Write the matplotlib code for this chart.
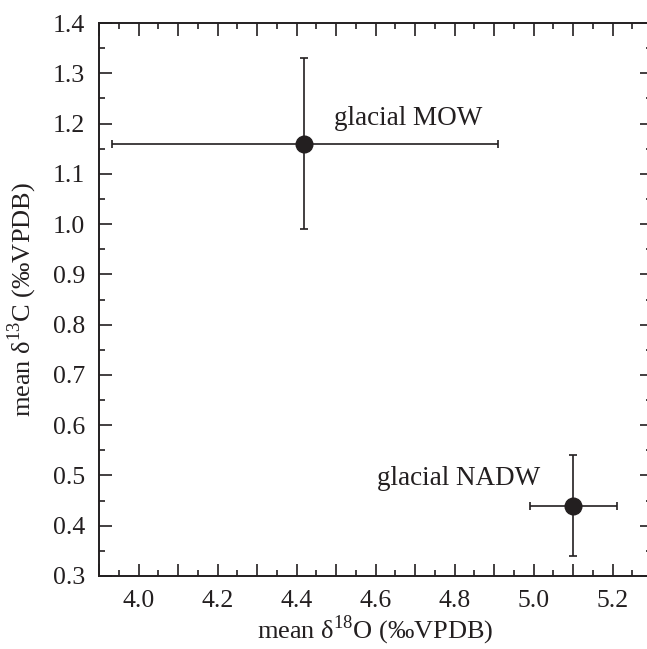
import numpy as np
import matplotlib
matplotlib.use("Agg")
import matplotlib.pyplot as plt
from matplotlib.ticker import MultipleLocator, FuncFormatter

plt.rcParams['font.family'] = ['Liberation Serif', 'DejaVu Serif']
plt.rcParams['mathtext.fontset'] = 'custom'
plt.rcParams['mathtext.rm'] = 'Liberation Serif'

# data
names = ['glacial MOW', 'glacial NADW']
d18o = [4.42, 5.10]
d13c = [1.16, 0.44]
d18o_lo = [4.42 - 3.933, 5.10 - 4.99]
d18o_hi = [4.91 - 4.42, 5.21 - 5.10]
d13c_lo = [1.16 - 0.99, 0.44 - 0.34]
d13c_hi = [1.33 - 1.16, 0.54 - 0.44]
label_pos = [(4.495, 1.211), (4.604, 0.493)]

ink = '#231f20'

fig = plt.figure(figsize=(6.47, 6.49), dpi=100)
ax = fig.add_axes([0.153, 0.1125, 0.855, 0.852])

ax.errorbar(d18o, d13c, xerr=[d18o_lo, d18o_hi], yerr=[d13c_lo, d13c_hi],
            fmt='o', color=ink, ms=12, elinewidth=1.2, capsize=3, capthick=1.2)

for name, (tx, ty) in zip(names, label_pos):
    ax.text(tx, ty, name, fontsize=19.5, color=ink, va='center', ha='left')

ax.set_xlim(3.9, 5.3)
ax.set_ylim(0.3, 1.4)

ax.xaxis.set_major_locator(MultipleLocator(0.1))
ax.xaxis.set_minor_locator(MultipleLocator(0.05))
ax.xaxis.set_major_formatter(FuncFormatter(
    lambda v, p: f'{v:.1f}' if abs(round(v * 10) % 2) == 0 else ''))
ax.yaxis.set_major_locator(MultipleLocator(0.1))
ax.yaxis.set_minor_locator(MultipleLocator(0.05))
ax.yaxis.set_major_formatter(FuncFormatter(lambda v, p: f'{v:.1f}'))

ax.tick_params(which='both', direction='in', top=True, right=True,
               colors=ink, width=1.2, labelsize=18.5)
ax.tick_params(which='major', length=9, pad=10)
ax.tick_params(which='minor', length=4.5)

for s in ax.spines.values():
    s.set_linewidth(1.4)
    s.set_color(ink)

ax.set_xlabel('mean δ$^{18}$O (‰VPDB)', fontsize=19, color=ink, labelpad=1)
ax.set_ylabel('mean δ$^{13}$C (‰VPDB)', fontsize=19, color=ink, labelpad=10)

fig.savefig('out.png', dpi=100)
